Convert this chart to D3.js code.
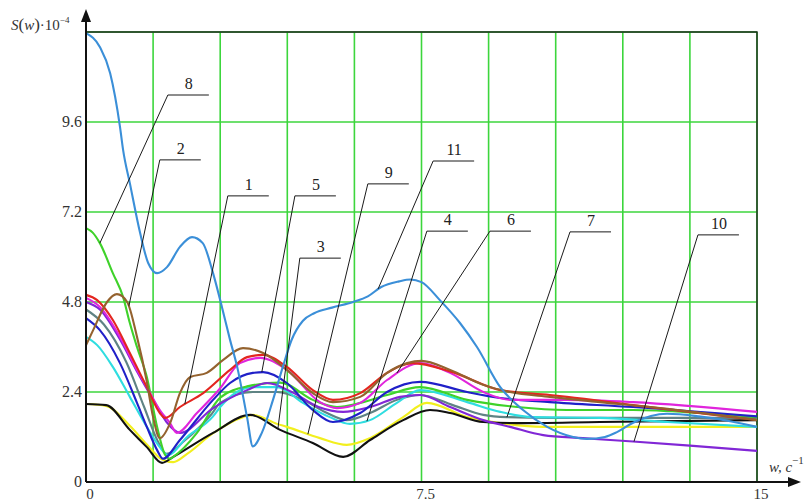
<!DOCTYPE html>
<html>
<head>
<meta charset="utf-8">
<script src="https://cdn.jsdelivr.net/npm/d3@7"></script>
<style>
  body { margin: 0; background: #fff; }
  svg { display: block; }
</style>
</head>
<body>
<svg id="chart" width="807" height="504"></svg>
<script>
// Spectral density S(w)·10^-4 for eleven cases, each as [w, S] pairs
const curve1 = [[0,4.99],[0.25,4.85],[0.6,4.32],[0.98,3.44],[1.36,2.53],[1.65,1.84],[1.77,1.71],[2.1,2.0],[2.62,2.37],[3.22,2.99],[3.6,3.33],[3.96,3.39],[4.49,3.07],[5.07,2.45],[5.52,2.19],[6.13,2.37],[6.73,2.91],[7.31,3.17],[8.14,2.95],[9.26,2.45],[10.37,2.32],[10.75,2.27],[12.23,2.05],[15,1.65]];
const curve2 = [[0,3.65],[0.16,4.05],[0.47,4.8],[0.69,5.01],[0.92,4.8],[1.14,3.87],[1.36,2.67],[1.5,1.73],[1.65,1.17],[1.88,1.57],[2.1,2.37],[2.33,2.8],[2.7,2.91],[3.06,3.25],[3.51,3.57],[3.96,3.44],[4.49,2.99],[5.07,2.37],[5.52,2.13],[6.13,2.27],[6.73,2.91],[7.18,3.17],[7.5,3.23],[8.14,2.99],[8.88,2.59],[9.48,2.4],[10.37,2.27],[11.49,2.13],[13,1.95],[15,1.65]];
const curve3 = [[0,2.08],[0.45,2.05],[0.98,1.39],[1.36,0.93],[1.7,0.51],[1.95,0.67],[2.84,1.31],[3.67,1.79],[4.34,1.39],[5.07,1.04],[5.75,0.67],[6.35,1.12],[7.09,1.65],[7.69,1.92],[8.14,1.84],[8.88,1.6],[9.64,1.57],[11.49,1.6],[15,1.65]];
const curve4 = [[0,3.87],[0.25,3.65],[0.6,3.07],[0.98,2.27],[1.36,1.47],[1.65,0.93],[1.83,0.72],[2.26,1.2],[2.84,1.75],[3.0,2.0],[3.73,2.53],[4.27,2.53],[4.85,2.11],[5.45,1.73],[5.9,1.55],[6.35,1.65],[6.95,2.11],[7.47,2.45],[8.52,2.13],[9.26,1.87],[9.99,1.73],[11.49,1.71],[13,1.6],[15,1.47]];
const curve5 = [[0,4.37],[0.31,4.05],[0.76,3.17],[1.14,2.11],[1.36,1.47],[1.59,0.85],[1.72,0.62],[2.1,1.12],[2.84,2.19],[3.22,2.64],[3.73,2.91],[3.96,2.93],[4.49,2.64],[5.07,1.92],[5.52,1.6],[6.13,1.84],[6.73,2.4],[7.47,2.67],[8.52,2.4],[9.26,2.24],[10.37,2.13],[12.23,2.0],[15,1.75]];
const curve6 = [[0,4.91],[0.31,4.67],[0.76,3.87],[1.14,2.99],[1.36,2.53],[1.65,1.92],[1.88,1.57],[2.03,1.31],[2.48,1.84],[3.0,2.5],[3.44,3.17],[3.89,3.31],[4.49,2.99],[5.23,2.13],[5.61,1.97],[6.13,2.11],[6.73,2.72],[7.47,3.17],[8.14,2.91],[8.88,2.4],[9.48,2.19],[10.75,2.19],[12.23,2.13],[15,1.87]];
const curve7 = [[0,4.6],[0.4,4.2],[0.9,3.2],[1.3,2.0],[1.6,1.1],[1.8,0.75],[2.2,1.1],[2.8,1.8],[3.0,2.11],[3.73,2.4],[4.27,2.4],[4.85,2.19],[5.39,1.84],[5.83,1.65],[6.35,1.84],[6.95,2.19],[7.47,2.32],[8.2,2.05],[8.88,1.79],[9.41,1.73],[10.37,1.71],[15,1.71]];
const curve8 = [[0,6.77],[0.15,6.65],[0.31,6.37],[0.6,5.57],[0.83,4.93],[0.98,4.24],[1.14,3.6],[1.36,2.8],[1.59,1.47],[1.77,0.72],[1.88,0.62],[1.95,0.67],[2.48,1.31],[3.0,2.25],[3.6,2.55],[4.34,2.65],[5.07,2.19],[5.61,2.0],[6.13,2.11],[6.73,2.32],[7.47,2.53],[8.52,2.19],[9.64,2.0],[10.75,1.92],[12.23,1.92],[13.73,1.84],[15,1.73]];
const curve9 = [[0,2.08],[0.45,2.03],[0.98,1.5],[1.36,1.0],[1.7,0.6],[1.95,0.53],[2.26,0.75],[2.84,1.3],[3.51,1.73],[3.73,1.79],[4.27,1.55],[4.49,1.47],[5.23,1.17],[5.83,0.99],[6.35,1.17],[7.09,1.73],[7.62,2.11],[8.52,1.73],[9.26,1.57],[10.22,1.47],[15,1.47]];
const curve10 = [[0,4.8],[0.31,4.6],[0.76,3.8],[1.14,2.95],[1.5,2.2],[1.8,1.6],[2.1,1.31],[2.84,1.97],[3.6,2.45],[4.05,2.64],[4.6,2.4],[5.2,2.0],[5.75,1.87],[6.35,2.0],[7.02,2.27],[7.47,2.32],[8.14,2.0],[8.88,1.65],[9.48,1.47],[10.22,1.25],[11.11,1.17],[12.23,1.08],[13.5,0.97],[15,0.83]];
const curve11 = [[0,11.97],[0.31,11.6],[0.54,10.9],[0.76,9.47],[0.83,8.85],[0.98,7.97],[1.21,6.64],[1.39,5.84],[1.59,5.57],[1.81,5.73],[2.1,6.27],[2.37,6.53],[2.61,6.37],[2.84,5.57],[3.0,4.85],[3.22,3.79],[3.38,3.07],[3.6,1.73],[3.73,0.95],[3.93,1.31],[4.18,2.19],[4.4,3.07],[4.6,3.8],[4.85,4.3],[5.1,4.5],[5.5,4.65],[5.97,4.8],[6.3,4.95],[6.6,5.2],[7.0,5.35],[7.25,5.4],[7.5,5.33],[7.91,4.85],[8.36,4.24],[8.74,3.6],[9.26,2.53],[9.77,1.92],[10.31,1.47],[10.89,1.2],[11.2,1.15],[11.6,1.2],[11.87,1.33],[12.23,1.58],[12.99,1.82],[13.7,1.75],[14.4,1.62],[15,1.47]];

const curveNames = ["1","2","3","4","5","6","7","8","9","10","11"];
const curveData = [curve1, curve2, curve3, curve4, curve5, curve6, curve7, curve8, curve9, curve10, curve11];

// Axis ticks
const yTickValues = [0, 2.4, 4.8, 7.2, 9.6];
const yGridValues = [2.4, 4.8, 7.2, 9.6, 12];
const xTickValues = [0, 7.5, 15];
const xGridValues = [1.5, 3, 4.5, 6, 7.5, 9, 10.5, 12, 13.5, 15];

// Curve labels: [label, label anchor w, label anchor S, w where the leader meets the curve]
const leaderLabels = [
  ["8", 1.83, 10.32, 0.31],
  ["2", 1.65, 8.59, 0.96],
  ["1", 3.17, 7.63, 2.21],
  ["5", 4.67, 7.63, 3.93],
  ["3", 4.78, 5.97, 4.29],
  ["9", 6.30, 7.95, 4.96],
  ["11", 7.76, 8.56, 6.53],
  ["4", 7.62, 6.69, 6.28],
  ["6", 9.03, 6.69, 6.95],
  ["7", 10.82, 6.67, 9.41],
  ["10", 13.68, 6.59, 12.25]
];

// Styling
const curveColors = {
  "1": "#e3261f", "2": "#94622e", "3": "#111111", "4": "#2fdde0",
  "5": "#2020c8", "6": "#e025dc", "7": "#5f8384", "8": "#3fd22a",
  "9": "#f2ef1e", "10": "#8127d6", "11": "#3b8fd8"
};
const drawOrder = ["7","9","3","4","8","10","5","6","1","2","11"];
const serif = "'Liberation Serif', 'Times New Roman', serif";

const svg = d3.select("#chart");
const x = d3.scaleLinear().domain([0, 15]).range([86, 757]);
const y = d3.scaleLinear().domain([0, 12]).range([482, 32]);

// Grid
const grid = svg.append("g").attr("stroke", "#3cd63c").attr("stroke-width", 1.6);
grid.selectAll("line.v").data(xGridValues).join("line")
  .attr("x1", d => x(d)).attr("x2", d => x(d))
  .attr("y1", y(0)).attr("y2", y(12));
grid.selectAll("line.h").data(yGridValues).join("line")
  .attr("x1", x(0)).attr("x2", x(15))
  .attr("y1", d => y(d)).attr("y2", d => y(d));

// Frame on top and right
svg.append("path")
  .attr("d", `M${x(0)},${y(12)}H${x(15)}V${y(0)}`)
  .attr("fill", "none").attr("stroke", "#1d2a1d").attr("stroke-width", 1.4);

// Curves
const line = d3.line()
  .x(d => x(d[0])).y(d => y(d[1]))
  .curve(d3.curveMonotoneX);

const pathNodes = {};
drawOrder.forEach(name => {
  const i = curveNames.indexOf(name);
  const p = svg.append("path")
    .datum(curveData[i])
    .attr("d", line)
    .attr("fill", "none")
    .attr("stroke", curveColors[name])
    .attr("stroke-width", 2.1)
    .attr("stroke-linejoin", "round");
  pathNodes[name] = p.node();
});

// y position on a curve at a given pixel x (curves are monotone in x)
function yAtX(node, px) {
  let lo = 0, hi = node.getTotalLength();
  for (let k = 0; k < 40; k++) {
    const mid = (lo + hi) / 2;
    if (node.getPointAtLength(mid).x < px) lo = mid; else hi = mid;
  }
  return node.getPointAtLength((lo + hi) / 2).y;
}

// Leader lines and curve numbers
const leaders = svg.append("g");
leaderLabels.forEach(([label, aw, as, tw]) => {
  const ax = x(aw), ay = y(as);
  const tx = x(tw), ty = yAtX(pathNodes[label], tx);
  leaders.append("path")
    .attr("d", `M${ax + 41},${ay}H${ax}L${tx},${ty}`)
    .attr("fill", "none").attr("stroke", "#1a1a1a").attr("stroke-width", 1);
  leaders.append("text")
    .attr("x", ax + 21).attr("y", ay - 6)
    .attr("text-anchor", "middle")
    .attr("font-family", serif).attr("font-size", 16).attr("fill", "#222")
    .text(label);
});

// Axes
const axisG = svg.append("g").attr("stroke", "#111").attr("fill", "#111");
axisG.append("line").attr("x1", x(0)).attr("x2", 790).attr("y1", y(0)).attr("y2", y(0)).attr("stroke-width", 2);
axisG.append("path").attr("d", `M801,${y(0)}L788,${y(0) - 5}L788,${y(0) + 5}Z`).attr("stroke", "none");
axisG.append("line").attr("x1", x(0)).attr("x2", x(0)).attr("y1", y(0)).attr("y2", 20).attr("stroke-width", 2);
axisG.append("path").attr("d", `M${x(0)},9L${x(0) - 5},22L${x(0) + 5},22Z`).attr("stroke", "none");

// Tick labels
svg.append("g").selectAll("text").data(yTickValues).join("text")
  .attr("x", 82).attr("y", d => y(d) + 1)
  .attr("text-anchor", "end").attr("dominant-baseline", "middle")
  .attr("font-family", serif).attr("font-size", 16).attr("fill", "#333")
  .text(d => d);
svg.append("g").selectAll("text").data(xTickValues).join("text")
  .attr("x", d => x(d) + 4).attr("y", 499)
  .attr("text-anchor", "middle")
  .attr("font-family", serif).attr("font-size", 15).attr("fill", "#333")
  .text(d => d);

// Axis titles
const yTitle = svg.append("text").attr("x", 11).attr("y", 30)
  .attr("font-family", serif).attr("font-size", 15).attr("fill", "#333");
yTitle.append("tspan").attr("font-style", "italic").text("S");
yTitle.append("tspan").attr("font-size", 17).text("(");
yTitle.append("tspan").attr("font-style", "italic").text("w");
yTitle.append("tspan").attr("font-size", 17).text(")");
yTitle.append("tspan").text("·10");
yTitle.append("tspan").attr("font-size", 9).attr("dy", -7).text("−4");

const xTitle = svg.append("text").attr("x", 769).attr("y", 472)
  .attr("font-family", serif).attr("font-size", 15).attr("fill", "#333");
xTitle.append("tspan").attr("font-style", "italic").text("w, c");
xTitle.append("tspan").attr("font-size", 11).attr("dy", -8).text("−1");
</script>
</body>
</html>
